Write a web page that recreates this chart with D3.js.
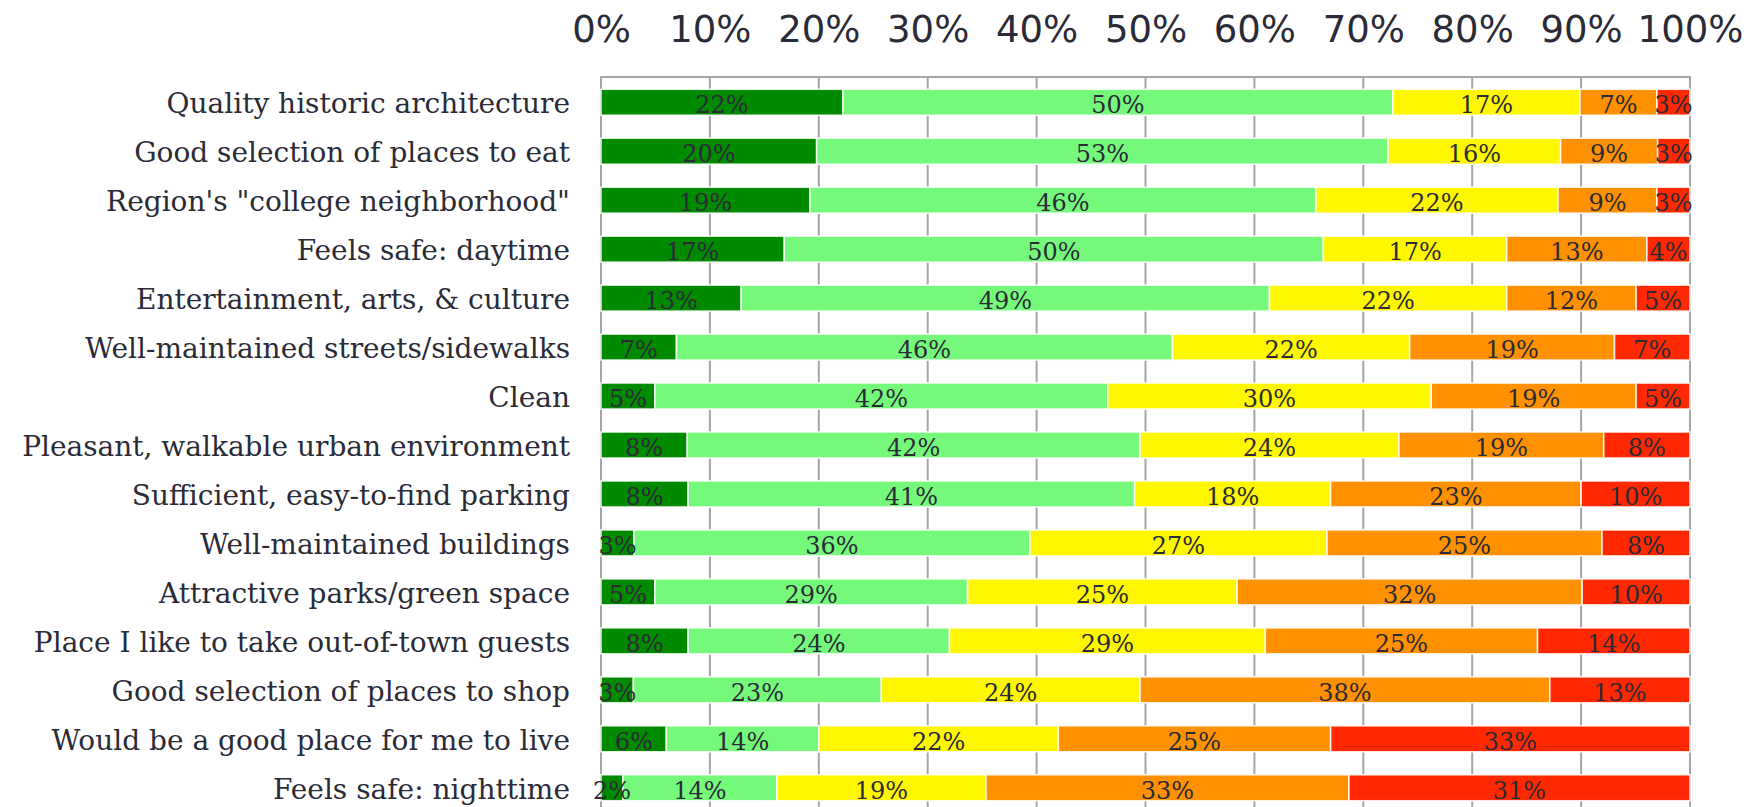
<!DOCTYPE html>
<html>
<head>
<meta charset="utf-8">
<script src="https://cdn.jsdelivr.net/npm/d3@7"></script>
<style>
  html, body { margin: 0; padding: 0; background: #ffffff; overflow: hidden; }
  svg { display: block; }
</style>
</head>
<body>
<svg id="chart" width="1761" height="807"></svg>
<script>
// Survey statements, top to bottom
const categories = [
  "Quality historic architecture",
  "Good selection of places to eat",
  "Region's \"college neighborhood\"",
  "Feels safe: daytime",
  "Entertainment, arts, & culture",
  "Well-maintained streets/sidewalks",
  "Clean",
  "Pleasant, walkable urban environment",
  "Sufficient, easy-to-find parking",
  "Well-maintained buildings",
  "Attractive parks/green space",
  "Place I like to take out-of-town guests",
  "Good selection of places to shop",
  "Would be a good place for me to live",
  "Feels safe: nighttime"
];

// Response shares (%) per statement, one array per answer level
const stronglyAgree    = [22, 20, 19, 17, 13,  7,  5,  8,  8,  3,  5,  8,  3,  6,  2];
const agree            = [50, 53, 46, 50, 49, 46, 42, 42, 41, 36, 29, 24, 23, 14, 14];
const neutral          = [17, 16, 22, 17, 22, 22, 30, 24, 18, 27, 25, 29, 24, 22, 19];
const disagree         = [ 7,  9,  9, 13, 12, 19, 19, 19, 23, 25, 32, 25, 38, 25, 33];
const stronglyDisagree = [ 3,  3,  3,  4,  5,  7,  5,  8, 10,  8, 10, 14, 13, 33, 31];

const seriesKeys = ["stronglyAgree", "agree", "neutral", "disagree", "stronglyDisagree"];
const seriesColors = ["#008a00", "#75f97b", "#fff700", "#ff9100", "#ff2800"];

// Axis tick values and their labels
const tickValues = [0, 10, 20, 30, 40, 50, 60, 70, 80, 90, 100];
const tickLabels = ["0%", "10%", "20%", "30%", "40%", "50%", "60%", "70%", "80%", "90%", "100%"];

const rows = categories.map((c, i) => ({
  category: c,
  stronglyAgree: stronglyAgree[i],
  agree: agree[i],
  neutral: neutral[i],
  disagree: disagree[i],
  stronglyDisagree: stronglyDisagree[i]
}));

const svg = d3.select("#chart");
const plotLeft = 601, plotRight = 1690, plotTop = 77, plotBottom = 813, viewBottom = 807;

const x = d3.scaleLinear().domain([0, 100]).range([plotLeft, plotRight]);
const y = d3.scaleBand().domain(categories).range([plotTop, plotBottom])
  .paddingInner(0.469).paddingOuter(0.25);
const color = d3.scaleOrdinal().domain(seriesKeys).range(seriesColors);

// Each bar fills the full width: segments are shares of the row total
const stacked = d3.stack().keys(seriesKeys).offset(d3.stackOffsetExpand)(rows);

// Vertical grid lines behind the bars
svg.append("g")
  .selectAll("line")
  .data(tickValues)
  .join("line")
  .attr("x1", d => x(d)).attr("x2", d => x(d))
  .attr("y1", plotTop).attr("y2", viewBottom)
  .attr("stroke", "#a6a6a6")
  .attr("stroke-width", 2);

// Top frame line
svg.append("line")
  .attr("x1", x(0) - 1).attr("x2", x(100) + 1)
  .attr("y1", plotTop).attr("y2", plotTop)
  .attr("stroke", "#a6a6a6")
  .attr("stroke-width", 2);

// Top axis labels
const axis = d3.axisTop(x)
  .tickValues(tickValues)
  .tickFormat((d, i) => tickLabels[i])
  .tickSize(0)
  .tickPadding(35);

const axisG = svg.append("g")
  .attr("transform", `translate(0,${plotTop})`)
  .call(axis);
axisG.select(".domain").remove();
axisG.selectAll("text")
  .attr("fill", "#2b2b38")
  .style("font-family", "'DejaVu Sans', sans-serif")
  .style("font-size", "37px");

// Flatten segments so labels can sit above every bar
const segments = stacked.flatMap(layer => layer.map(p => ({ p, key: layer.key })));

// Stacked bar segments
svg.append("g")
  .selectAll("rect")
  .data(segments)
  .join("rect")
  .attr("fill", d => color(d.key))
  .attr("x", d => x(d.p[0] * 100))
  .attr("y", d => y(d.p.data.category))
  .attr("width", d => x(d.p[1] * 100) - x(d.p[0] * 100))
  .attr("height", y.bandwidth())
  .attr("stroke", "#ffffff")
  .attr("stroke-opacity", 0.85)
  .attr("stroke-width", 1.6);

// Value labels centred in each segment
svg.append("g")
  .selectAll("text")
  .data(segments)
  .join("text")
  .attr("x", d => x((d.p[0] + d.p[1]) / 2 * 100))
  .attr("y", d => y(d.p.data.category) + y.bandwidth() / 2 + 11)
  .attr("text-anchor", "middle")
  .attr("fill", "#2b2b38")
  .style("font-family", "'DejaVu Serif', serif")
  .style("font-size", "24px")
  .text(d => d.p.data[d.key] + "%");

// Category labels
svg.append("g")
  .selectAll("text")
  .data(categories)
  .join("text")
  .attr("x", plotLeft - 31)
  .attr("y", d => y(d) + y.bandwidth() / 2 + 11)
  .attr("text-anchor", "end")
  .attr("fill", "#2b2b38")
  .style("font-family", "'DejaVu Serif', serif")
  .style("font-size", "28px")
  .text(d => d);
</script>
</body>
</html>
